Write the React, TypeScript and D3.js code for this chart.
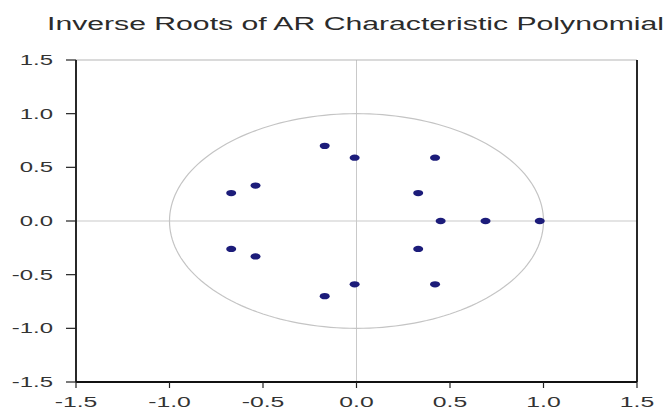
import { scaleLinear, range } from "d3";

// inverse roots (conjugate pairs listed once with +/- im)
const rootRe = [-0.17, -0.17, -0.01, -0.01, -0.54, -0.54, -0.67, -0.67, 0.42, 0.42, 0.33, 0.33, 0.45, 0.69, 0.98];
const rootIm = [0.7, -0.7, 0.59, -0.59, 0.33, -0.33, 0.26, -0.26, 0.59, -0.59, 0.26, -0.26, 0, 0, 0];
const xTicks = [-1.5, -1.0, -0.5, 0.0, 0.5, 1.0, 1.5];
const yTicks = [1.5, 1.0, 0.5, 0.0, -0.5, -1.0, -1.5];
const title = "Inverse Roots of AR Characteristic Polynomial";

const W = 665;
const H = 411;
const margin = { top: 60, right: 28, bottom: 29, left: 76 };
// the source image is stretched sideways, so text is too
const stretch = 1.65;

export default function App() {
  const x = scaleLinear().domain([-1.5, 1.5]).range([margin.left, W - margin.right]);
  const y = scaleLinear().domain([-1.5, 1.5]).range([H - margin.bottom, margin.top]);

  // unit circle drawn through the scales
  const circle = range(0, 361, 2)
    .map((deg, i) => {
      const a = (deg * Math.PI) / 180;
      return `${i ? "L" : "M"}${x(Math.cos(a))},${y(Math.sin(a))}`;
    })
    .join("") + "Z";

  const font = "'Liberation Sans', Arial, sans-serif";
  const x0 = x(-1.5), x1 = x(1.5), y0 = y(-1.5), y1 = y(1.5);

  return (
    <svg
      width={W}
      height={H}
      style={{ position: "absolute", left: 0, top: 0, background: "#fff" }}
      fontFamily={font}
    >
      <text
        x={47}
        y={30}
        fontSize={17.5}
        fill="#2b2b2b"
        textLength={617}
        lengthAdjust="spacingAndGlyphs"
      >
        {title}
      </text>

      {/* crosshair */}
      <line x1={x(0)} x2={x(0)} y1={y1} y2={y0} stroke="#c9c9c9" strokeWidth={1} />
      <line x1={x0} x2={x1} y1={y(0)} y2={y(0)} stroke="#c9c9c9" strokeWidth={1} />

      <path d={circle} fill="none" stroke="#c4c4c4" strokeWidth={1.2} />

      {rootRe.map((re, i) => (
        <ellipse key={i} cx={x(re)} cy={y(rootIm[i])} rx={5} ry={3.2} fill="#1c1c7a" />
      ))}

      {/* frame */}
      <line x1={x0} x2={x1} y1={y1} y2={y1} stroke="#b5b5b5" strokeWidth={1} />
      <line x1={x0} x2={x0} y1={y1} y2={y0} stroke="#111" strokeWidth={1.8} />
      <line x1={x1} x2={x1} y1={y1} y2={y0} stroke="#111" strokeWidth={1.8} />
      <line x1={x0} x2={x1} y1={y0} y2={y0} stroke="#111" strokeWidth={1.8} />

      {yTicks.map((t) => (
        <g key={"y" + t}>
          <line x1={x0 - 10} x2={x0} y1={y(t)} y2={y(t)} stroke="#222" strokeWidth={1.2} />
          <text
            transform={`translate(${x0 - 23},${y(t)}) scale(${stretch},1)`}
            dy="0.35em"
            textAnchor="end"
            fontSize={14.5}
            fill="#333"
          >
            {t.toFixed(1)}
          </text>
        </g>
      ))}

      {xTicks.map((t) => (
        <g key={"x" + t}>
          <line x1={x(t)} x2={x(t)} y1={y0} y2={y0 + 6} stroke="#222" strokeWidth={1.2} />
          <text
            transform={`translate(${x(t)},${y0 + 25}) scale(${stretch},1)`}
            textAnchor="middle"
            fontSize={15}
            fill="#333"
          >
            {t.toFixed(1)}
          </text>
        </g>
      ))}
    </svg>
  );
}
